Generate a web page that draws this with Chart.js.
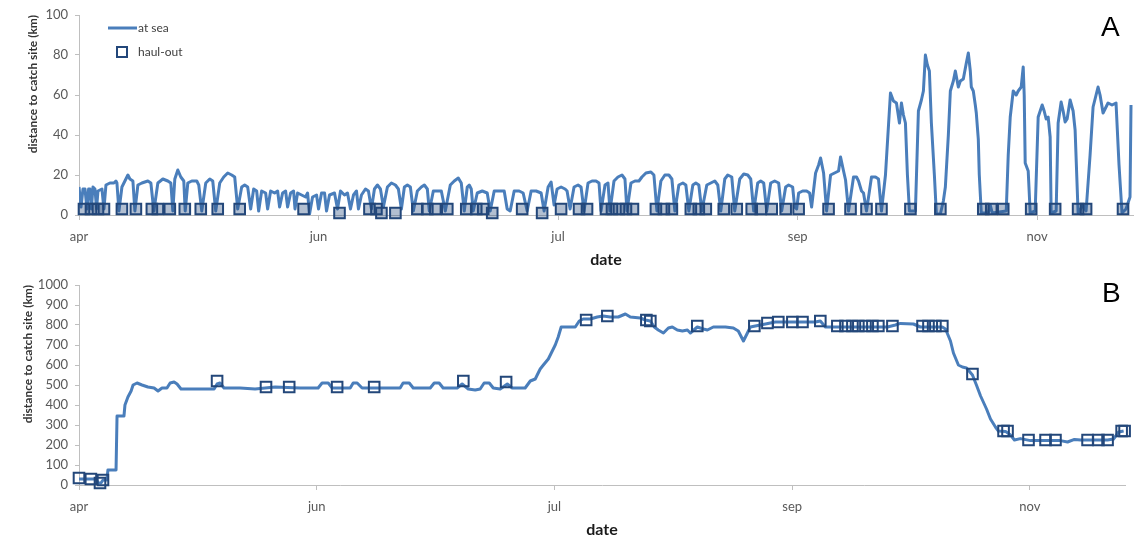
<!DOCTYPE html>
<html>
<head>
<meta charset="utf-8">
<script src="https://cdn.jsdelivr.net/npm/chart.js@4/dist/chart.umd.min.js"></script>
<style>
body{margin:0;background:#fff;font-family:Lato,sans-serif}
#wrap{position:relative;width:1143px;height:540px;overflow:hidden;background:#fff}
.panel{position:absolute;left:0;width:1143px;height:270px}
.tag{position:absolute;font:28px/28px "Liberation Sans",Arial,sans-serif;color:#000}
</style>
</head>
<body>
<div id="wrap">
  <div class="panel" style="top:0"><canvas id="chartA" width="1143" height="270"></canvas></div>
  <div class="panel" style="top:270px"><canvas id="chartB" width="1143" height="270"></canvas></div>
  <div class="tag" style="left:1101px;top:13px">A</div>
  <div class="tag" style="left:1102px;top:279px">B</div>
</div>
<script>
// x axis is days since 1 April
const tickDays = [0, 60, 120, 180, 240];
const tickNames = ['apr', 'jun', 'jul', 'sep', 'nov'];

// panel A: distance (km) while at sea, [day, km]
const atSea = [
  [0,14],[0.5,4],[1,13],[1.5,13],[2,3],[2.4,13],[2.75,13],[3.1,3],[3.5,14],[4,13],[4.4,3],[4.75,12],[5.75,13],[6.25,3],
  [6.75,15],[7.75,16],[8.75,16],[9.25,17],[9.5,16],[10,2],[10.75,14],[11.5,17],[12.25,20],[12.75,18],[13.5,17],[14,2],
  [14.75,15],[15.75,16],[17.25,17],[18,16],[18.75,2],[19.75,16],[21,18],[22.25,17],[23,16],[23.5,2],[24,18],[24.75,22.5],
  [25.5,19],[26.25,17],[26.6,2],[27.25,16],[28.25,17],[29.5,17],[30,15],[30.75,2],[31.75,16],[32.75,18],[33.5,17],[34.25,2],
  [35.25,16],[36.25,19],[37.25,21],[38.25,20],[39,19],[39.75,3],[40.75,14],[41.5,15],[42.25,14],[43,3],[43.75,13],[44.5,12],
  [45,2],[45.75,12],[46.75,11],[47.25,3],[48,12],[49,11],[49.75,12],[50.25,4],[51,11],[51.75,12],[52.25,4],[53,11],[53.75,12],
  [54.1,3],[54.75,11],[55.75,10],[56.75,9],[57.25,11],[57.75,0.5],[58.5,9],[59.5,10],[60,3],[60.75,11],[61.5,11],[62,2],
  [62.75,10],[64,11],[64.75,3],[65.5,12],[66.5,10],[67.25,11],[68,3],[68.75,10],[69.5,12],[70,3],[70.75,10],[71.75,13],
  [72.5,12],[73.25,3],[74,13],[74.75,15],[75.5,13],[76.25,4],[77.25,14],[78.25,16],[79.25,15],[80,13],[80.75,3],[81.5,14],
  [82.25,15],[83,14],[83.75,2],[84.75,12],[85.75,14],[86.5,15],[87.25,13],[87.75,2],[88.75,12],[89.75,12],[90.75,12],[91.75,2],
  [93,15],[94,17],[95,18.5],[95.75,16],[96.5,2],[97.25,14],[97.75,15],[98.25,13],[98.75,2],[99.75,11],[101,12],[102.25,11],
  [103,2],[104,12],[105.25,12],[106.5,12],[107.25,3],[108,2],[109,12],[110.25,12],[111.25,11],[112.25,2],[113.25,12],
  [114.5,12],[115.75,11],[116.5,2],[117.5,14],[118.25,16.5],[119,5],[119.75,13],[120.75,14],[121.75,13],[122.25,12],[123,3],
  [124,14],[125,15],[125.75,14],[126.5,2],[127.5,16],[128.5,17],[129.5,17],[130.25,16],[130.75,2],[131.75,15],[132.5,16],
  [133,2],[134,17],[135,19],[136,20],[136.75,18],[137.25,2],[138.25,16],[139.25,17],[140.25,17],[141,19],[142,21],[143.25,21.5],
  [144,20],[144.75,2],[145.75,17],[146.75,20],[147.75,20],[148.5,18],[149.25,2],[150.25,15],[151.25,16],[152,15],[152.75,2],
  [153.75,15],[154.5,16],[155.25,15],[156,2],[157.25,15],[158.25,16],[159.25,17],[160,15],[160.75,2],[161.75,18],[162.5,20],
  [163.5,19],[164.25,2],[165.5,18],[166.5,20.5],[167.5,20],[168.25,18],[169,2],[170,16],[170.75,17],[171.5,16],[172.25,2],
  [173.25,16],[174.25,17],[175.25,16],[176,2],[177,14],[177.75,15],[178.75,14],[179.25,4],[179.75,3],[180.25,11],[181.25,12],
  [182.25,12],[183,11],[183.5,4],[184.5,21],[185.25,25],[185.75,28.5],[186.5,21],[187.25,2],[188.25,20],[189.25,21],[190.25,22],
  [190.75,29],[191.5,22],[192,17.5],[192.75,2],[194,19],[194.75,19],[195.25,17],[196,12],[196.5,11],[197.25,2],[198.5,19],
  [199.5,19],[200.25,18],[201,2],[202,20],[203.25,61],[204,57],[204.75,56],[205.5,46],[206,56],[206.5,50],[207,46],[207.5,20],
  [208,2],[209.5,2],[210.25,52],[211,57.5],[211.5,62],[212,80],[212.5,75],[213,72],[213.5,46],[214.25,20],[214.75,0.5],
  [215.75,0.5],[216.5,7],[217,14],[217.75,40],[218.25,62],[219,67],[219.5,72],[220.25,64],[220.75,67],[221.5,68],[222.25,76],
  [222.75,81],[223.25,72],[223.5,64],[224,62],[224.5,55],[224.75,51],[225.25,38],[225.5,20],[226,1],[227.75,1],[228.25,5],
  [228.75,1],[232.25,2],[232.75,30],[233.25,49],[234,62],[234.75,60],[235.25,62],[236,64],[236.5,74],[236.75,60],[237,26],
  [237.75,22],[238.25,1],[239.5,2],[240.25,49],[240.75,52],[241.25,55],[241.75,52],[242.25,48],[242.75,49],[243.25,39],
  [243.5,1],[244.75,2],[245.25,46],[246,56.5],[246.5,52],[247,46.5],[247.5,48],[248.25,57.5],[249,52],[249.5,42.5],[250.25,1],
  [251.5,5],[252.25,2],[253.25,30],[254,54],[254.75,60],[255.25,64],[255.75,60],[256.5,51],[257.25,54],[257.75,56],[258.75,55],
  [259.75,56],[260.5,25],[261.25,1],[262.25,3],[263.25,9],[263.5,55]
];

// panel A: haul-out fixes, [day, km]
const haulA = [
  [1.25,3],[3,3],[4.75,3],[6.25,3],[10.75,3],[14.25,3],[18.25,3],[19.75,3],[22.75,3],[26.5,3],[30.5,3],[34.75,3],[40.25,3],
  [56.25,3],[65.25,1],[72.75,3],[74.5,3],[75.75,1],[79.25,1],[84.75,3],[87.25,3],[89.25,3],[92.25,3],[97,3],[99.5,3],
  [101.25,3],[103.5,1],[111,3],[116,1],[120.75,3],[125.25,3],[127.25,3],[132,3],[133.5,3],[135.25,3],[137,3],[138.75,3],
  [144.5,3],[146.5,3],[148.5,3],[153.25,3],[155.25,3],[157,3],[161.5,3],[164.75,3],[168.5,3],[170.75,3],[173.5,3],[177,3],
  [180.25,3],[187.75,3],[193.25,3],[197.25,3],[201,3],[208.25,3],[215.75,3],[226.5,3],[228.5,3],[231.5,3],[238.5,3],
  [244.5,3],[250.25,3],[252.25,3],[261.5,3]
];

// panel B: distance (km) of the track, [day, km]
const track = [
  [0,30],[4.3,30],[4.8,10],[5.55,10],[6.05,25],[7.05,25],[7.3,75],[9.35,75],[9.6,345],[11.35,345],[11.6,400],[12.35,440],
  [13.15,470],[13.65,500],[14.65,510],[15.9,500],[17.4,490],[18.95,485],[19.95,470],[20.95,485],[22.2,485],[23,510],[24,515],
  [24.75,505],[25.75,480],[30.55,480],[34.1,480],[34.85,505],[35.6,510],[36.6,485],[40.65,485],[44.45,480],[49.5,490],
  [55.8,485],[60.35,485],[61.35,510],[62.9,510],[63.9,485],[68.45,485],[69.2,510],[70.2,510],[71.45,485],[76,485],[81.05,485],
  [81.8,510],[83.35,510],[84.35,485],[88.65,485],[89.65,510],[90.9,510],[91.9,485],[95.45,485],[96.7,505],[98.25,480],
  [100,475],[101.25,480],[102.25,510],[103.55,510],[104.55,485],[106.3,480],[108.1,505],[109.35,485],[112.6,485],[113.9,520],
  [115.15,530],[116.4,580],[117.2,600],[118.45,630],[119.2,660],[120.2,700],[120.95,740],[121.7,790],[125.25,790],[126.25,820],
  [127.25,830],[129.05,830],[130.8,840],[132.3,845],[134.1,840],[136.1,840],[137.9,855],[139.15,840],[141.65,835],[142.95,825],
  [144.2,820],[145.2,790],[146.2,775],[147.5,760],[148.75,785],[149.75,790],[151,775],[152.3,770],[153.55,775],[154.3,760],
  [156.05,790],[157.6,780],[158.6,775],[160.1,790],[163.15,790],[165.15,785],[166.4,770],[167.7,720],[168.7,760],[169.45,790],
  [170.7,795],[173.25,805],[175.75,815],[179.55,815],[182.85,815],[185.85,815],[187.1,820],[188.4,790],[199.75,790],[204.05,790],
  [206.05,800],[207.3,808],[210.6,805],[212.35,790],[217.9,790],[218.7,780],[219.95,720],[220.7,660],[221.95,600],[222.95,590],
  [224,585],[225.5,550],[226.5,500],[227.55,445],[229.05,380],[230.05,330],[231.3,290],[232.05,270],[233.85,268],[235.1,250],
  [236.1,225],[237.6,232],[240.15,222],[247.7,222],[249.5,215],[251.25,228],[252.8,225],[259.6,225],[261.1,230],[262.4,265],
  [263.65,270]
];

// panel B: haul-out fixes, [day, km]
const haulB = [
  [0,35],[3,30],[5.3,10],[6.05,25],[34.85,520],[47.2,490],[53.05,490],[65.15,490],[74.5,490],[97,520],[107.8,515],[128,825],
  [133.35,845],[143.2,825],[144.2,820],[156.05,795],[170.45,795],[173.75,810],[176.5,815],[180.05,815],[182.6,815],[187.1,820],
  [191.4,795],[193.45,795],[195.2,795],[196.7,795],[198.5,795],[200.25,795],[201.75,795],[205.3,795],[212.9,795],[214.4,795],
  [216.15,795],[217.9,795],[225.5,555],[233.35,270],[234.35,270],[239.65,225],[243.95,225],[246.45,225],[254.55,225],
  [257.3,225],[259.6,225],[263.15,270],[263.9,270]
];

const lineBlue = '#4a7ebb';
const boxBlue = '#23477a';
const axisGrey = '#bfbfbf';
const labelGrey = '#595959';

const toXY = arr => arr.map(p => ({x: p[0], y: p[1]}));

const legendA = {
  id: 'legendA',
  afterDraw(chart) {
    const ctx = chart.ctx, a = chart.chartArea;
    ctx.save();
    ctx.strokeStyle = lineBlue; ctx.lineWidth = 3;
    ctx.beginPath(); ctx.moveTo(a.left + 29, 28); ctx.lineTo(a.left + 58, 28); ctx.stroke();
    ctx.strokeStyle = boxBlue; ctx.lineWidth = 2;
    ctx.strokeRect(a.left + 38, 47, 10, 10);
    ctx.fillStyle = '#404040'; ctx.font = '12px Lato'; ctx.textBaseline = 'middle';
    ctx.fillText('at sea', a.left + 59, 28);
    ctx.fillText('haul-out', a.left + 59, 52);
    ctx.restore();
  }
};

function makeChart(id, lineData, haulData, yMax, yStep, titlePad, padRight, boxFill, plugins) {
  return new Chart(document.getElementById(id), {
    type: 'line',
    data: {
      datasets: [
        {data: toXY(haulData), showLine: false, pointStyle: 'rect', pointRadius: 7.5, pointBorderWidth: 2,
         pointBorderColor: boxBlue, pointBackgroundColor: boxFill, clip: false},
        {data: toXY(lineData), borderColor: lineBlue, borderWidth: 3, pointRadius: 0, tension: 0,
         borderJoinStyle: 'round', fill: false}
      ]
    },
    options: {
      responsive: false, animation: false, events: [],
      layout: {padding: {left: 0, top: 15, right: padRight, bottom: 0}},
      plugins: {legend: {display: false}, tooltip: {enabled: false}},
      scales: {
        x: {
          type: 'linear', min: 0, max: 264,
          afterBuildTicks: s => { s.ticks = tickDays.map(v => ({value: v})); },
          afterFit: s => { s.height = 55; },
          ticks: {autoSkip: false, maxRotation: 0, padding: 9, color: labelGrey, font: {family: 'Lato', size: 13},
                  callback: v => tickNames[tickDays.indexOf(v)]},
          grid: {drawOnChartArea: false, tickLength: 5, color: axisGrey},
          border: {color: axisGrey},
          title: {display: true, text: 'date', color: '#1a1a1a', font: {family: 'Lato', size: 16, weight: 'bold'},
                  padding: {top: 0, bottom: 1}}
        },
        y: {
          min: 0, max: yMax,
          afterFit: s => { s.width = 79; },
          ticks: {stepSize: yStep, padding: 7, color: labelGrey, font: {family: 'Lato', size: 13},
                  callback: v => String(v)},
          grid: {drawOnChartArea: false, tickLength: 4, color: axisGrey},
          border: {color: axisGrey},
          title: {display: true, text: 'distance to catch site (km)', align: 'end', color: '#333',
                  font: {family: 'Lato', size: 12, weight: 'bold'}, padding: {top: titlePad, bottom: 0}}
        }
      }
    },
    plugins: plugins
  });
}

makeChart('chartA', atSea, haulA, 100, 20, 26, 10, 'rgba(35,71,122,0.35)', [legendA]);
makeChart('chartB', track, haulB, 1000, 100, 21, 18, 'rgba(255,255,255,0)', []);
</script>
</body>
</html>
